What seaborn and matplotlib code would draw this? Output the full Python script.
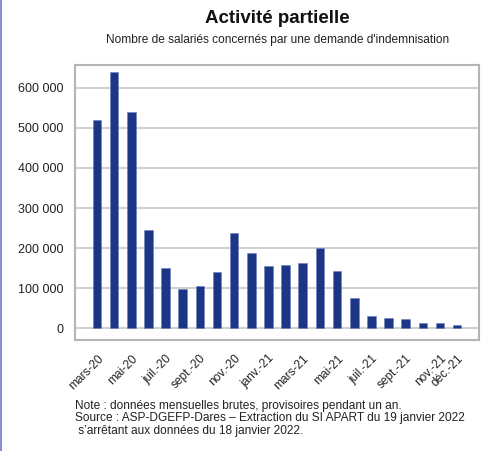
import matplotlib
matplotlib.use("Agg")
import matplotlib.pyplot as plt
from matplotlib.ticker import FuncFormatter
import seaborn as sns
import pandas as pd

# Monthly data, mars-20 to déc-21
months = ["mars-20", "avr.-20", "mai-20", "juin-20", "juil.-20", "août-20", "sept.-20",
          "oct.-20", "nov.-20", "déc.-20", "janv.-21", "févr.-21", "mars-21", "avr.-21",
          "mai-21", "juin-21", "juil.-21", "août-21", "sept.-21", "oct.-21", "nov.-21", "déc.-21"]
salaries = [520000, 639000, 539000, 244000, 150000, 97000, 105000, 139000, 238000, 187000,
            156000, 158000, 163000, 199000, 143000, 76000, 31000, 25000, 22000, 13000, 12000, 7000]
shown_ticks = [0, 2, 4, 6, 8, 10, 12, 14, 16, 18, 20, 21]

title = "Activité partielle"
subtitle = "Nombre de salariés concernés par une demande d'indemnisation"
notes = [
    "Note : données mensuelles brutes, provisoires pendant un an.",
    "Source : ASP-DGEFP-Dares – Extraction du SI APART du 19 janvier 2022",
    " s’arrêtant aux données du 18 janvier 2022.",
]

df = pd.DataFrame({"mois": months, "salaries": salaries})

sns.set_theme(style="white")
plt.rcParams["font.family"] = ["Liberation Sans", "DejaVu Sans"]

fig = plt.figure(figsize=(4.93, 4.51), dpi=100)
ax = fig.add_axes([0.152, 0.246, 0.820, 0.610])

sns.barplot(data=df, x="mois", y="salaries", color="#1c3584", saturation=1,
            width=0.5, edgecolor="#6b7fbf", linewidth=0.4, ax=ax)

ax.set_xlim(-1.29, 22.29)
ax.set_ylim(-30000, 657500)
ax.set_yticks([0, 100000, 200000, 300000, 400000, 500000, 600000])
ax.yaxis.set_major_formatter(FuncFormatter(lambda v, p: f"{int(v):,}".replace(",", " ")))
ax.grid(axis="y", color="#cccccc", linewidth=1.3)
ax.set_axisbelow(True)

ax.set_xticks(shown_ticks)
ax.set_xticklabels([months[i] for i in shown_ticks], rotation=45, ha="right",
                   rotation_mode="anchor", fontsize=8.6, color="#222222")
ax.tick_params(axis="x", length=6, width=1.5, color="#b4b4b4", pad=3)
ax.tick_params(axis="y", length=5, width=1.5, color="#b4b4b4", pad=3,
               labelsize=9, labelcolor="#222222")
ax.tick_params(axis="both", direction="out")
ax.set_xlabel("")
ax.set_ylabel("")

for side in ["left", "right", "top", "bottom"]:
    ax.spines[side].set_visible(True)
    ax.spines[side].set_color("#b4b4b4")
    ax.spines[side].set_linewidth(1.5)

fig.text(0.562, 0.960, title, ha="center", va="center", fontsize=13.5, fontweight="bold", color="#111111")
fig.text(0.562, 0.911, subtitle, ha="center", va="center", fontsize=8.6, color="#222222")

for i, line in enumerate(notes):
    fig.text(0.152, 1 - (406 + 12.3 * i) / 451, line, ha="left", va="center",
             fontsize=8.6, color="#222222")

# thin coloured rule down the left edge
fig.add_artist(plt.Line2D([0.002, 0.002], [0, 1], color="#8a8fd0", linewidth=1.5,
                          transform=fig.transFigure))

fig.savefig("out.png", dpi=100)
